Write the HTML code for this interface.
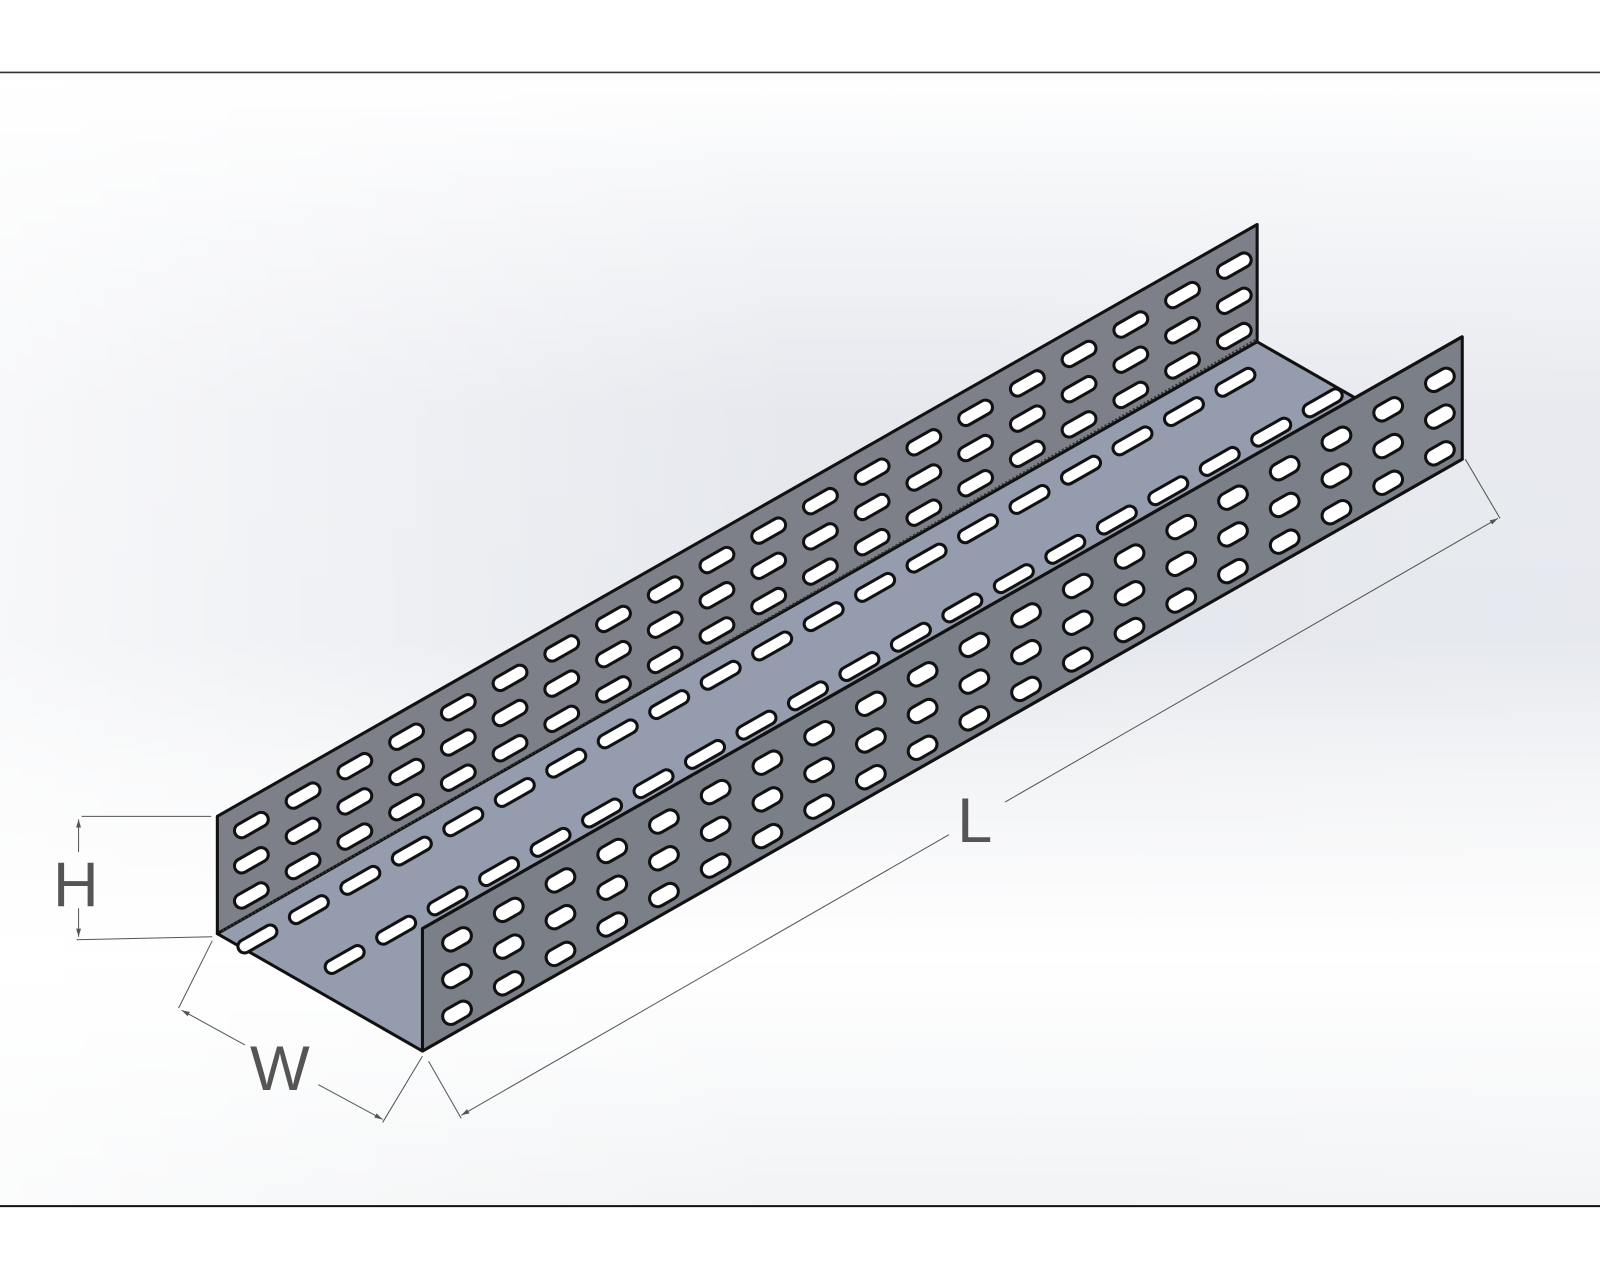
<!DOCTYPE html>
<html><head><meta charset="utf-8"><style>
html,body{margin:0;padding:0;width:1600px;height:1280px;overflow:hidden;background:#fff}
svg{display:block}
text{font-family:"Liberation Sans",sans-serif;fill:#555}
</style></head><body>
<svg id="s" width="1600" height="1280" viewBox="0 0 1568 1254.4" xmlns="http://www.w3.org/2000/svg">
<defs>
<linearGradient id="bg" x1="0" y1="0" x2="0" y2="1">
<stop offset="0" stop-color="#ffffff"/>
<stop offset="0.08" stop-color="#f7f8fa"/>
<stop offset="0.3" stop-color="#e6e8ee"/>
<stop offset="0.5" stop-color="#e4e7ed"/>
<stop offset="0.62" stop-color="#f3f4f6"/>
<stop offset="0.78" stop-color="#ffffff"/>
<stop offset="1" stop-color="#f1f3f5"/>
</linearGradient>
<linearGradient id="bgh" x1="0" y1="0" x2="1" y2="0">
<stop offset="0" stop-color="#fff" stop-opacity="0.7"/>
<stop offset="0.5" stop-color="#fff" stop-opacity="0"/>
<stop offset="1" stop-color="#fff" stop-opacity="0.1"/>
</linearGradient>
<marker id="ar" viewBox="0 0 10 10" refX="10" refY="5" markerWidth="14" markerHeight="8" orient="auto-start-reverse" markerUnits="userSpaceOnUse">
<path d="M0,2 L10,5 L0,8 Z" fill="#555"/></marker>
</defs>
<rect x="0" y="71" width="1568" height="1111" fill="url(#bg)"/>
<rect x="0" y="71" width="1568" height="1111" fill="url(#bgh)"/>
<line x1="0" y1="71" x2="1568" y2="71" stroke="#333" stroke-width="1.5"/>
<line x1="0" y1="1182" x2="1568" y2="1182" stroke="#111" stroke-width="2"/>
<g id="tray"></g>
<g stroke="#555" stroke-width="1" fill="none">
<line x1="80" y1="800" x2="207" y2="800"/>
<line x1="75" y1="921" x2="208" y2="918"/>
<line x1="77" y1="835" x2="77" y2="803" marker-end="url(#ar)"/>
<line x1="77" y1="890" x2="77" y2="918" marker-end="url(#ar)"/>
<line x1="208" y1="922" x2="175" y2="988"/>
<line x1="414" y1="1035" x2="375" y2="1100"/>
<line x1="240" y1="1024" x2="178" y2="990" marker-end="url(#ar)"/>
<line x1="312" y1="1063" x2="375" y2="1097" marker-end="url(#ar)"/>
<line x1="420" y1="1040" x2="452" y2="1096"/>
<line x1="1436" y1="450" x2="1470" y2="508"/>
<line x1="930" y1="818" x2="452" y2="1093" marker-end="url(#ar)"/>
<line x1="985" y1="786" x2="1468" y2="508" marker-end="url(#ar)"/>
</g>
<text x="52" y="888" font-size="62">H</text>
<text x="245" y="1068" font-size="62">W</text>
<text x="938" y="825" font-size="62">L</text>
</svg>
<script>
var g=document.getElementById('tray'),NS='http://www.w3.org/2000/svg';
function el(t,a){var e=document.createElementNS(NS,t);for(var k in a)e.setAttribute(k,a[k]);g.appendChild(e);return e;}
var A=[213,915],u=[1019,-580],w=[201,115],H1=115,H2=120;
var ang=Math.atan2(u[1],u[0])*180/Math.PI;
function P(o,t,s,v){return [o[0]+t*u[0]+s*v[0],o[1]+t*u[1]+s*v[1]];}
function poly(pts,f){el('polygon',{points:pts.map(function(p){return p.join(',')}).join(' '),fill:f,stroke:'#111','stroke-width':3,'stroke-linejoin':'round'});}
function slot(x,y,l,h,r){el('rect',{x:x-l/2,y:y-h/2,width:l,height:h,rx:h/2,ry:h/2,fill:'#fff',stroke:'#111','stroke-width':3,transform:'rotate('+r+' '+x+' '+y+')'});}
var L0=A,L1=[A[0]+u[0],A[1]+u[1]];
poly([L0,L1,[L1[0],L1[1]-H1],[L0[0],L0[1]-H1]],'#7d8088');
for(var i=0;i<20;i++){var t=(i+0.5)/20.1;for(var j=0;j<3;j++){var p=P(A,t,0.2+0.3*j,[0,-H1]);slot(p[0]+8,p[1],36,14,ang);}}
var F1=[A[0]+w[0],A[1]+w[1]];
poly([L0,L1,[L1[0]+w[0],L1[1]+w[1]],F1],'#959cae');
for(var i=0;i<20;i++){for(var j=0;j<2;j++){var t=(i+0.3+0.5*j)/20.2;var p=P(A,t,0.12+0.3*j,w);slot(p[0],p[1],42,13,ang);}}
el('line',{x1:A[0]+5,y1:A[1]-3,x2:L1[0],y2:L1[1]-3,stroke:'#333','stroke-width':2,'stroke-dasharray':'2,2'});
var B=F1,B1=[B[0]+u[0],B[1]+u[1]];
poly([B,B1,[B1[0],B1[1]-H2],[B[0],B[1]-H2]],'#7b7f88');
for(var i=0;i<20;i++){for(var j=0;j<3;j++){var t=(i+0.55)/20.1;var p=P(B,t,0.18+0.3*j,[0,-H2]);slot(p[0]+6,p[1],30,16,ang);}}
el('line',{x1:B[0],y1:B[1]-H2,x2:B1[0],y2:B1[1]-H2,stroke:'#111','stroke-width':3});
</script>
</body></html>
